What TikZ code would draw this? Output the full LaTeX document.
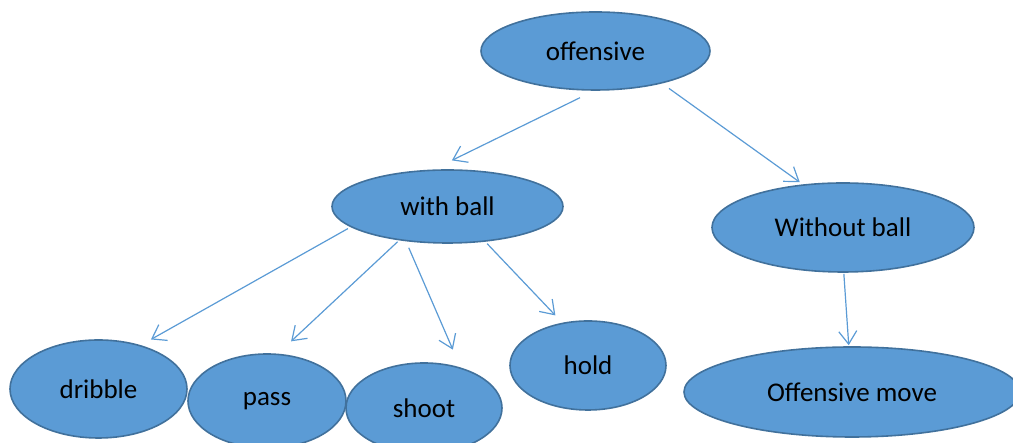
\documentclass[tikz,border=0pt]{standalone}
\usepackage{fontspec}
\setmainfont{Carlito}
\usetikzlibrary{arrows.meta,shapes.geometric}
\definecolor{bubblefill}{HTML}{5B9BD5}
\definecolor{bubbleline}{HTML}{41719C}

\begin{document}
\begin{tikzpicture}[
        x=1pt, y=1pt,
        % Estilos
        bubble/.style={ellipse, draw=bubbleline, fill=bubblefill, line width=1.6pt, inner sep=0pt, font=\fontsize{27}{32}\selectfont},
        arrow/.style={-{Straight Barb[length=13pt,width=18pt]}, draw=bubblefill, line width=1.2pt}
    ]
        \clip (0,0) rectangle (1013,443);

        % Topo
        \node (offensive) [bubble, minimum width=229pt, minimum height=78pt] at (595.5,392) {offensive};

        % Segundo nivel
        \node (withball) [bubble, minimum width=231pt, minimum height=73pt] at (447.5,236.5) {with ball};
        \node (withoutball) [bubble, minimum width=262pt, minimum height=89pt] at (843,215.5) {Without ball};

        % Folhas
        \node (dribble) [bubble, minimum width=177pt, minimum height=98pt] at (98.5,54) {dribble};
        \node (pass) [bubble, minimum width=158pt, minimum height=94pt] at (267,42) {pass};
        \node (shoot) [bubble, minimum width=156pt, minimum height=90pt] at (424,35) {shoot};
        \node (hold) [bubble, minimum width=156pt, minimum height=89pt] at (588,77.5) {hold};
        \node (offmove) [bubble, minimum width=336pt, minimum height=90pt] at (852,51) {Offensive move};

        % --- Linhas de Conexão ---
        \draw [arrow, shorten <=15.7pt, shorten >=20.7pt] (offensive.268) -- (withball.111);
        \draw [arrow, shorten <=8.5pt, shorten >=3.7pt] (offensive.334) -- (withoutball.133);

        \draw [arrow, shorten <=3pt, shorten >=11.6pt] (withball.192) -- (dribble.46);
        \draw [arrow, shorten <=2pt, shorten >=18pt] (withball.215) -- (pass.77);
        \draw [arrow, shorten <=7pt, shorten >=19.4pt] (withball.220) -- (shoot.48.5);
        \draw [arrow, shorten <=2.6pt, shorten >=10pt] (withball.317) -- (hold.121);

        \draw [arrow, shorten <=1pt, shorten >=1pt] (withoutball.271) -- (offmove.94);

    \end{tikzpicture}
\end{document}
